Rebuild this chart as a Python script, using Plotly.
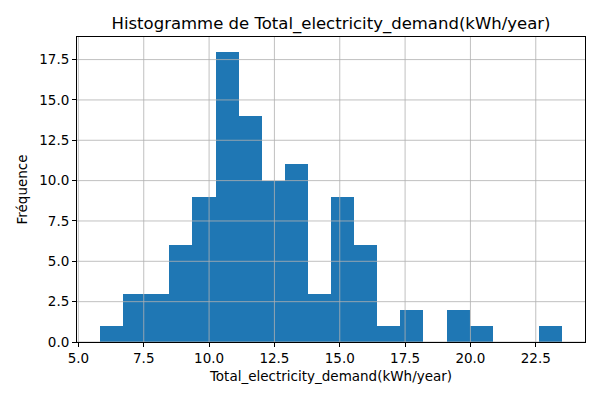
import numpy as np
import plotly.graph_objects as go

# histogram bins (20 bins between min and max)
bin_edges = [5.83, 6.71, 7.60, 8.48, 9.36, 10.25, 11.13, 12.01, 12.90, 13.78,
             14.67, 15.55, 16.43, 17.32, 18.20, 19.09, 19.97, 20.85, 21.74,
             22.62, 23.50]
counts = [1, 3, 3, 6, 9, 18, 14, 10, 11, 3, 9, 6, 1, 2, 0, 2, 1, 0, 0, 1]

x_ticks = [5.0, 7.5, 10.0, 12.5, 15.0, 17.5, 20.0, 22.5]
y_ticks = [0.0, 2.5, 5.0, 7.5, 10.0, 12.5, 15.0, 17.5]

edges = np.array(bin_edges)
centers = (edges[:-1] + edges[1:]) / 2
widths = np.diff(edges)

span = edges[-1] - edges[0]
x_range = [edges[0] - 0.05 * span, edges[-1] + 0.05 * span]
y_range = [0, max(counts) * 1.05]

FONT = "DejaVu Sans"
GRID = "#b0b0b0"

fig = go.Figure()
fig.add_trace(go.Bar(
    x=centers, y=counts, width=widths,
    marker=dict(color="#1f77b4", line=dict(width=0)),
    hoverinfo="x+y",
))

# matplotlib draws the grid on top of the bars
shapes = []
for t in x_ticks:
    shapes.append(dict(type="line", xref="x", yref="paper", x0=t, x1=t, y0=0, y1=1,
                       line=dict(color=GRID, width=0.8), layer="above"))
for t in y_ticks:
    shapes.append(dict(type="line", xref="paper", yref="y", x0=0, x1=1, y0=t, y1=t,
                       line=dict(color=GRID, width=0.8), layer="above"))

fig.update_layout(
    width=600, height=400,
    margin=dict(l=77, r=15, t=37, b=58, autoexpand=False),
    paper_bgcolor="white", plot_bgcolor="white",
    font=dict(family=FONT, size=13.5, color="black"),
    showlegend=False,
    bargap=0,
    shapes=shapes,
    title=dict(text="Histogramme de Total_electricity_demand(kWh/year)",
               x=0.5, xref="paper", xanchor="center",
               y=1 - 23 / 400, yanchor="middle",
               font=dict(family=FONT, size=16.5, color="black")),
)
fig.update_xaxes(
    range=x_range, tickvals=x_ticks, ticktext=[f"{t:.1f}" for t in x_ticks],
    showgrid=False, zeroline=False, automargin=False,
    showline=True, linecolor="black", linewidth=1, mirror=True,
    ticks="outside", ticklen=4, tickcolor="black",
    title=dict(text="Total_electricity_demand(kWh/year)", standoff=6,
               font=dict(family=FONT, size=13.5)),
)
fig.update_yaxes(
    range=y_range, tickvals=y_ticks, ticktext=[f"{t:.1f}" for t in y_ticks],
    showgrid=False, zeroline=False, automargin=False,
    showline=True, linecolor="black", linewidth=1, mirror=True,
    ticks="outside", ticklen=4, tickcolor="black",
    title=dict(text="Fréquence", standoff=8, font=dict(family=FONT, size=13.5)),
)

# drop the browser's default body margin so the figure sits at the page corner
fig.write_html("out.html", config={"displayModeBar": False},
               post_script="document.body.style.margin='0px';")
